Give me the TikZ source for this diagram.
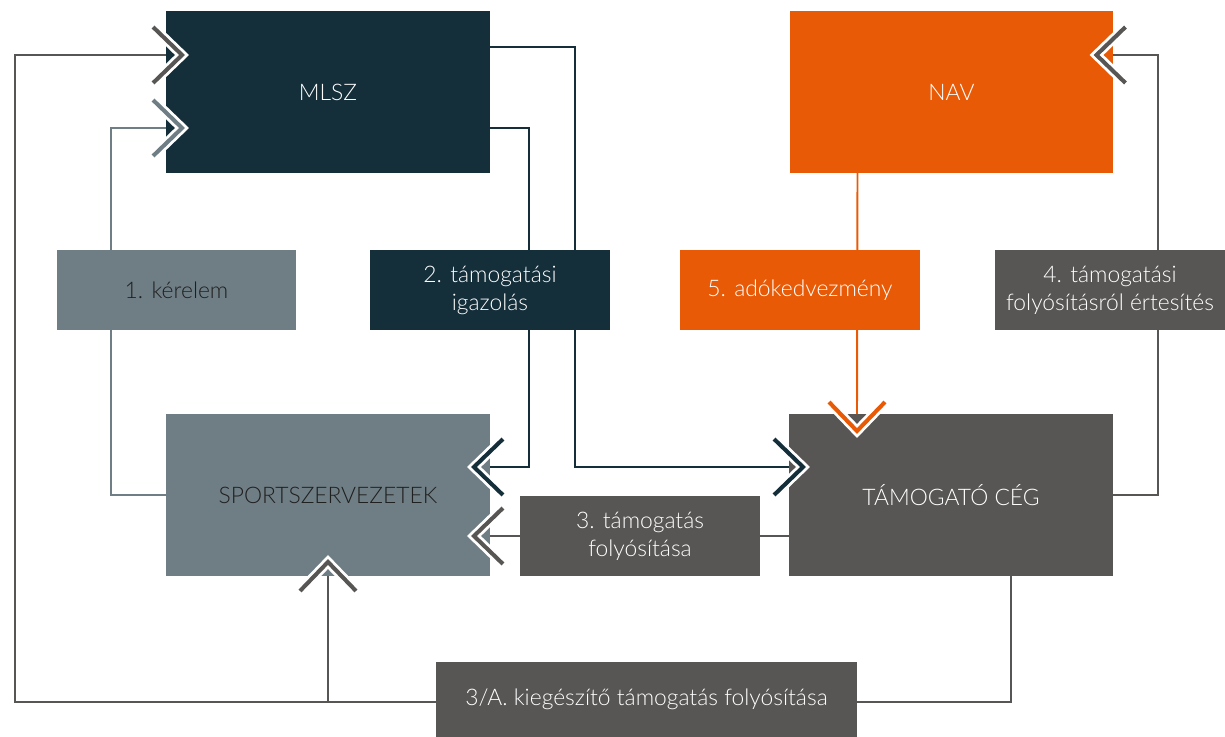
\documentclass[tikz,border=0pt]{standalone}
\usepackage{fontspec}
\setmainfont{Lato}[UprightFont=* Light]
\usetikzlibrary{calc}
\definecolor{tealDark}{HTML}{142E3A}
\definecolor{navOrange}{HTML}{E85A05}
\definecolor{slate}{HTML}{6F7E85}
\definecolor{stone}{HTML}{575654}
\colorlet{textDark}{black!88}
\tikzstyle{bigbox}=[rectangle, minimum width=6.48cm, minimum height=3.24cm, inner sep=0pt, outer sep=0pt, text=white, font=\fontsize{13}{16}\selectfont]
\tikzstyle{tag}=[rectangle, minimum width=4.8cm, minimum height=1.6cm, align=center, inner sep=0pt, outer sep=0pt, text=white, font=\fontsize{13}{16}\selectfont]
\tikzstyle{wire}=[line width=1.1pt]
\tikzset{chev/.pic={
    \draw[white, line width=5.5pt, miter limit=10] (-29,-28) -- (0,0) -- (-29,28);
    \draw[pic actions, line width=2.3pt] (-29,-28) -- (0,0) -- (-29,28);
}}

\begin{document}
\begin{tikzpicture}[x=0.02cm, y=-0.02cm]
  \useasboundingbox (0,0) rectangle (1225,737);
  \node (mlsz) [bigbox, fill=tealDark] at (328,92) {MLSZ};
  \node (nav) [bigbox, fill=navOrange] at (951.5,92) {NAV};
  \node (sport) [bigbox, fill=slate, text=textDark] at (328,495) {SPORTSZERVEZETEK};
  \node (ceg) [bigbox, fill=stone] at (951,495) {TÁMOGATÓ CÉG};
  \coordinate (bus) at (15,702);

  % 1. kérelem
  \draw [wire, slate] (sport.west) -- ++(-55,0) |- ($(mlsz.west)+(0,36)$);
  \pic [draw=slate] at ($(mlsz.west)+(16,36)$) {chev};
  % 2. igazolás
  \draw [wire, tealDark] ($(mlsz.east)+(0,36)$) -| ($(sport.east)+(39,-28)$) -- ($(sport.east)+(0,-28)$);
  \pic [draw=tealDark, rotate=180] at ($(sport.east)+(-16,-28)$) {chev};
  \draw [wire, tealDark] ($(mlsz.east)+(0,-45)$) -| ($(sport.east)+(85,-28)$) -- ($(ceg.west)+(0,-28)$);
  \pic [draw=tealDark] at ($(ceg.west)+(14,-28)$) {chev};
  % 3. folyósítás
  \draw [wire, stone] ($(ceg.west)+(0,41)$) -- ($(sport.east)+(0,41)$);
  \pic [draw=stone, rotate=180] at ($(sport.east)+(-16,41)$) {chev};
  % 4. értesítés
  \draw [wire, stone] (ceg.east) -- ++(45,0) |- ($(nav.east)+(0,-37)$);
  \pic [draw=stone, rotate=180] at ($(nav.east)+(-17,-37)$) {chev};
  % 5. adókedvezmény
  \draw [wire, navOrange] ($(nav.south)+(-94,0)$) -- ($(ceg.north)+(-94,0)$);
  \pic [draw=navOrange, rotate=270] at ($(ceg.north)+(-94,17)$) {chev};
  % 3/A
  \draw [wire, stone] ($(ceg.south)+(60,0)$) |- (bus) |- ($(mlsz.west)+(0,-37)$);
  \pic [draw=stone] at ($(mlsz.west)+(16,-37)$) {chev};
  \draw [wire, stone] (sport.south |- bus) -- (sport.south);
  \pic [draw=stone, rotate=90] at ($(sport.south)+(0,-14)$) {chev};

  \node (kerelem) [tag, fill=slate, text=textDark] at (176.5,290) {1. kérelem};
  \node (igazolas) [tag, fill=tealDark] at (490,290) {2. támogatási\\igazolás};
  \node (kedv) [tag, fill=navOrange] at (800,290) {5. adókedvezmény};
  \node (ertesites) [tag, fill=stone, minimum width=4.6cm] at (1110,290) {4. támogatási\\folyósításról értesítés};
  \node (folyositas) [tag, fill=stone] at (640,536) {3. támogatás\\folyósítása};
  \node (kieg) [tag, fill=stone, minimum width=8.42cm, minimum height=1.5cm] at (646.5,699.5) {3/A. kiegészítő támogatás folyósítása};
\end{tikzpicture}
\end{document}
